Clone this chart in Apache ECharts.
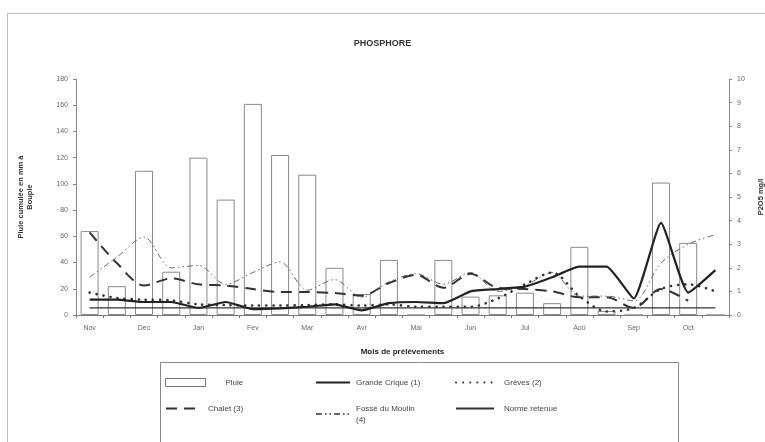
<!DOCTYPE html>
<html>
<head>
<meta charset="utf-8">
<script src="https://cdn.jsdelivr.net/npm/echarts@6/dist/echarts.min.js"></script>
<style>
html,body{margin:0;padding:0;background:#fff;}
#chart{width:765px;height:442px;}
</style>
</head>
<body>
<div id="chart"></div>
<script>
// ---- data ----
const monthLabels = ['Nov','Dec','Jan','Fev','Mar','Avr','Mai','Jun','Jul','Aoû','Sep','Oct'];
const periods = ['Nov 1','Nov 2','Dec 1','Dec 2','Jan 1','Jan 2','Fev 1','Fev 2','Mar 1','Mar 2','Avr 1','Avr 2',
                 'Mai 1','Mai 2','Jun 1','Jun 2','Jul 1','Jul 2','Aoû 1','Aoû 2','Sep 1','Sep 2','Oct 1','Oct 2'];
const pluie = [64, 22, 110, 33, 120, 88, 161, 122, 107, 36, 16, 42, 0, 42, 14, 15, 17, 9, 52, 3, 0, 101, 55, 0];
const grandeCrique = [0.65, 0.65, 0.55, 0.55, 0.3, 0.55, 0.25, 0.28, 0.35, 0.45, 0.2, 0.5, 0.55, 0.5, 1.0, 1.1, 1.2, 1.6, 2.05, 2.05, 0.7, 3.9, 0.95, 1.9];
const greves = [0.95, 0.72, 0.65, 0.62, 0.45, 0.42, 0.4, 0.4, 0.42, 0.45, 0.4, 0.45, 0.35, 0.35, 0.35, 0.7, 1.3, 1.8, 0.8, 0.15, 0.3, 1.1, 1.3, 1.0];
const chalet = [3.5, 2.2, 1.25, 1.55, 1.3, 1.25, 1.1, 0.97, 0.97, 0.93, 0.82, 1.35, 1.7, 1.15, 1.75, 1.15, 1.1, 1.0, 0.75, 0.75, 0.3, 1.1, 0.6, null];
const fosse = [1.6, 2.45, 3.3, 2.0, 2.1, 1.3, 1.8, 2.25, 1.05, 1.5, 0.75, 1.4, 1.75, 1.3, 1.8, 1.0, 1.25, 1.8, 0.8, 0.8, 0.6, 2.2, 3.0, 3.4];
const norme = [0.3, 0.3, 0.3, 0.3, 0.3, 0.3, 0.3, 0.3, 0.3, 0.3, 0.3, 0.3, 0.3, 0.3, 0.3, 0.3, 0.3, 0.3, 0.3, 0.3, 0.3, 0.3, 0.3, 0.3];
const leftTicks = {min: 0, max: 180, interval: 20};
const rightTicks = {min: 0, max: 10, interval: 1};

const FONT = 'Liberation Sans';
const chart = echarts.init(document.getElementById('chart'), null, {renderer: 'canvas'});

function legendAt(name, left, top, iconW, textPad, hideSymbol) {
  const l = {
    data: [name], left: left, top: top, itemWidth: iconW, itemHeight: 8,
    padding: 0, selectedMode: false,
    textStyle: {fontFamily: FONT, fontSize: 8, color: '#444', padding: [0,0,0,textPad], lineHeight: 11}
  };
  if (hideSymbol) l.itemStyle = {opacity: 0};
  else { l.icon = 'rect'; l.itemStyle = {color: '#fff', borderColor: '#777', borderWidth: 1}; }
  return l;
}

const option = {
  backgroundColor: '#fff',
  animation: false,
  title: {
    text: 'PHOSPHORE', left: 'center', top: 34,
    textStyle: {fontFamily: FONT, fontSize: 9, fontWeight: 'bold', color: '#333'}
  },
  grid: {left: 76, right: 36, top: 79, bottom: 127, outerBoundsMode: 'none', containLabel: false},
  legend: [
    legendAt('Pluie', 165, 377, 40, 15, false),
    legendAt('Grande Crique (1)', 315, 377, 34, 1, true),
    legendAt('Grèves (2)', 455, 377, 36, 7, true),
    legendAt('Chalet (3)', 165, 403, 34, 3, true),
    legendAt('Fossé du Moulin\n(4)', 315, 403, 34, 1, true),
    legendAt('Norme retenue', 455, 403, 38, 5, true)
  ],
  graphic: [
    {type: 'rect', shape: {x: 7.5, y: 13.5, width: 800, height: 450}, style: {fill: 'none', stroke: '#c4bcc8', lineWidth: 1}, silent: true},
    {type: 'rect', shape: {x: 160.5, y: 362.5, width: 518, height: 100}, style: {fill: 'none', stroke: '#888', lineWidth: 1}, silent: true}
  ],
  xAxis: {
    type: 'category', data: periods, boundaryGap: true,
    name: 'Mois de prélèvements', nameLocation: 'middle', nameGap: 33,
    nameTextStyle: {fontFamily: FONT, fontSize: 8, fontWeight: 'bold', color: '#222'},
    axisLine: {lineStyle: {color: '#777', width: 1}},
    axisTick: {show: true, interval: 0, length: 3, lineStyle: {color: '#777'}},
    axisLabel: {
      interval: 1, margin: 10, fontFamily: FONT, fontSize: 7, color: '#666',
      formatter: function (v, i) { return monthLabels[Math.floor(i / 2)]; }
    }
  },
  yAxis: [
    {
      type: 'value', min: leftTicks.min, max: leftTicks.max, interval: leftTicks.interval,
      name: 'Pluie cumulée en mm à\nBouple', nameLocation: 'middle', nameGap: 42,
      nameTextStyle: {fontFamily: FONT, fontSize: 7.5, fontWeight: 'bold', color: '#333', lineHeight: 9},
      axisLine: {show: true, lineStyle: {color: '#888'}},
      axisTick: {show: true, length: 3, lineStyle: {color: '#888'}},
      splitLine: {show: false},
      axisLabel: {margin: 8, fontFamily: FONT, fontSize: 7, color: '#666'}
    },
    {
      type: 'value', min: rightTicks.min, max: rightTicks.max, interval: rightTicks.interval,
      position: 'right',
      name: 'P2O5 mg/l', nameLocation: 'middle', nameGap: 28,
      nameTextStyle: {fontFamily: FONT, fontSize: 7.5, fontWeight: 'bold', color: '#333'},
      axisLine: {show: true, lineStyle: {color: '#888'}},
      axisTick: {show: true, length: 3, lineStyle: {color: '#888'}},
      splitLine: {show: false},
      axisLabel: {margin: 8, fontFamily: FONT, fontSize: 7, color: '#666'}
    }
  ],
  series: [
    {
      name: 'Pluie', type: 'bar', yAxisIndex: 0, data: pluie, barWidth: 18,
      itemStyle: {color: '#fff', borderColor: '#8a8a8a', borderWidth: 1}
    },
    {
      name: 'Grande Crique (1)', type: 'line', yAxisIndex: 1, data: grandeCrique,
      symbol: 'none', smooth: 0.15, z: 5,
      lineStyle: {color: '#222', width: 2.2}, itemStyle: {color: '#222'}
    },
    {
      name: 'Grèves (2)', type: 'line', yAxisIndex: 1, data: greves,
      symbol: 'none', smooth: 0.3, z: 4,
      lineStyle: {color: '#333', width: 2.6, type: [0.1, 7], cap: 'round'}, itemStyle: {color: '#333'}
    },
    {
      name: 'Chalet (3)', type: 'line', yAxisIndex: 1, data: chalet,
      symbol: 'none', smooth: 0.3, z: 4,
      lineStyle: {color: '#333', width: 2, type: [11, 7]}, itemStyle: {color: '#333'}
    },
    {
      name: 'Fossé du Moulin\n(4)', type: 'line', yAxisIndex: 1, data: fosse,
      symbol: 'none', smooth: 0.3, z: 3,
      lineStyle: {color: '#666', width: 1, type: [6, 3, 1.5, 3, 1.5, 3]}, itemStyle: {color: '#666'}
    },
    {
      name: 'Norme retenue', type: 'line', yAxisIndex: 1, data: norme,
      symbol: 'none', z: 3,
      lineStyle: {color: '#333', width: 1.2}, itemStyle: {color: '#333'}
    }
  ]
};
chart.setOption(option);
</script>
</body>
</html>
